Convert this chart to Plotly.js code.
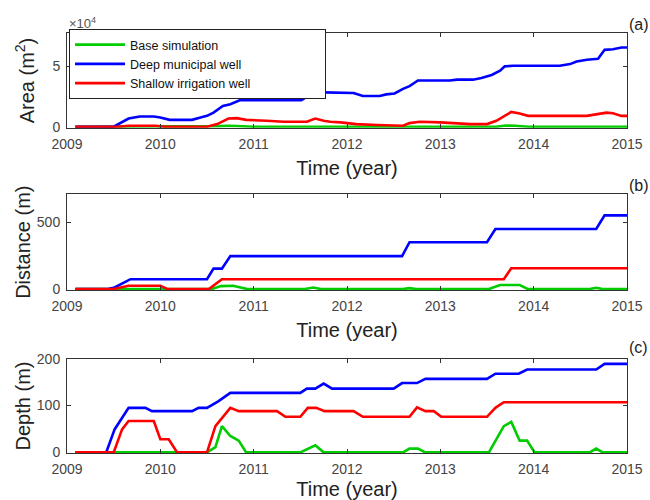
<!DOCTYPE html>
<html><head><meta charset="utf-8">
<script src="https://cdn.plot.ly/plotly-3.0.1.min.js"></script>
<style>html,body{margin:0;padding:0;background:#fff}#chart{width:650px;height:500px}</style>
</head><body><div id="chart"></div>
<script>
const seriesNames = ['Base simulation', 'Deep municipal well', 'Shallow irrigation well'];
const seriesColors = ['#00cc00', '#0000ff', '#ff0000'];
const yearTicks = [2009, 2010, 2011, 2012, 2013, 2014, 2015];
const yearLabels = ['2009', '2010', '2011', '2012', '2013', '2014', '2015'];

// Panel (a): Area (x10^4 m^2)
const areaBaseT = [2009.09, 2009.55, 2009.66, 2009.95, 2010.05, 2010.5, 2010.62, 2010.75, 2010.9, 2011.0, 2013.6, 2013.7, 2013.8, 2013.95, 2015.0];
const areaBaseV = [0, 0, 0.06, 0.06, 0, 0, 0.05, 0.08, 0.04, 0, 0, 0.1, 0.08, 0, 0];
const areaDeepT = [2009.09, 2009.5, 2009.66, 2009.78, 2009.93, 2010.0, 2010.1, 2010.34, 2010.43, 2010.5, 2010.57, 2010.67, 2010.75, 2010.85, 2011.51, 2011.58, 2011.66, 2011.75, 2012.07, 2012.17, 2012.35, 2012.42, 2012.51, 2012.6, 2012.67, 2012.76, 2013.1, 2013.18, 2013.35, 2013.44, 2013.55, 2013.64, 2013.69, 2013.78, 2014.28, 2014.39, 2014.46, 2014.57, 2014.69, 2014.76, 2014.85, 2014.94, 2015.0];
const areaDeepV = [0, 0, 0.68, 0.85, 0.85, 0.77, 0.57, 0.57, 0.77, 0.9, 1.17, 1.72, 1.86, 2.19, 2.19, 2.54, 2.68, 2.85, 2.8, 2.54, 2.54, 2.68, 2.76, 3.14, 3.36, 3.83, 3.83, 3.9, 3.9, 4.04, 4.29, 4.64, 5.0, 5.05, 5.05, 5.19, 5.41, 5.55, 5.63, 6.37, 6.42, 6.56, 6.56];
const areaShallowT = [2009.09, 2009.55, 2009.66, 2009.95, 2010.05, 2010.5, 2010.61, 2010.73, 2010.82, 2010.92, 2011.14, 2011.32, 2011.57, 2011.66, 2011.75, 2011.82, 2011.93, 2012.1, 2012.32, 2012.6, 2012.67, 2012.78, 2013.0, 2013.32, 2013.5, 2013.6, 2013.69, 2013.76, 2013.85, 2013.94, 2014.57, 2014.67, 2014.78, 2014.85, 2014.94, 2015.0];
const areaShallowV = [0, 0, 0.08, 0.08, 0, 0, 0.22, 0.68, 0.71, 0.57, 0.49, 0.41, 0.41, 0.68, 0.5, 0.41, 0.36, 0.22, 0.14, 0.08, 0.3, 0.41, 0.36, 0.22, 0.22, 0.49, 0.9, 1.23, 1.09, 0.9, 0.9, 1.04, 1.17, 1.12, 0.9, 0.9];

// Panel (b): Distance (m)
const distBaseT = [2009.09, 2009.5, 2009.6, 2009.95, 2010.05, 2010.55, 2010.65, 2010.78, 2010.93, 2011.55, 2011.64, 2011.72, 2012.6, 2012.67, 2012.74, 2013.52, 2013.64, 2013.85, 2013.94, 2014.6, 2014.67, 2014.74, 2015.0];
const distBaseV = [0, 0, 5, 5, 0, 0, 22, 25, 0, 0, 12, 0, 0, 7, 0, 0, 30, 30, 0, 0, 10, 0, 0];
const distDeepT = [2009.09, 2009.44, 2009.51, 2009.68, 2010.5, 2010.57, 2010.66, 2010.75, 2012.59, 2012.67, 2013.5, 2013.59, 2014.67, 2014.76, 2015.0];
const distDeepV = [0, 0, 12, 74, 74, 153, 153, 247, 247, 351, 351, 450, 450, 552, 552];
const distShallowT = [2009.09, 2009.5, 2009.66, 2010.0, 2010.08, 2010.52, 2010.66, 2013.68, 2013.76, 2015.0];
const distShallowV = [0, 0, 25, 25, 0, 0, 74, 74, 156, 156];

// Panel (c): Depth (m)
const depthBaseT = [2009.09, 2010.5, 2010.59, 2010.66, 2010.75, 2010.84, 2010.92, 2011.5, 2011.66, 2011.75, 2012.6, 2012.67, 2012.76, 2012.84, 2013.52, 2013.68, 2013.76, 2013.85, 2013.93, 2014.01, 2014.6, 2014.67, 2014.74, 2015.0];
const depthBaseV = [0, 0, 11, 56, 35, 25, 0, 0, 15, 0, 0, 8, 8, 0, 0, 56, 65, 25, 25, 0, 0, 8, 0, 0];
const depthDeepT = [2009.09, 2009.42, 2009.51, 2009.66, 2009.84, 2009.91, 2010.34, 2010.41, 2010.5, 2010.62, 2010.75, 2011.5, 2011.57, 2011.66, 2011.75, 2011.84, 2012.5, 2012.59, 2012.75, 2012.84, 2013.5, 2013.59, 2013.84, 2013.93, 2014.67, 2014.76, 2015.0];
const depthDeepV = [0, 0, 49, 95, 95, 88, 88, 95, 95, 109, 127, 127, 136, 136, 147, 136, 136, 148, 148, 157, 157, 168, 168, 177, 177, 189, 189];
const depthShallowT = [2009.09, 2009.5, 2009.59, 2009.66, 2009.93, 2010.0, 2010.09, 2010.18, 2010.5, 2010.59, 2010.75, 2010.84, 2011.25, 2011.34, 2011.5, 2011.58, 2011.67, 2011.76, 2012.07, 2012.17, 2012.67, 2012.75, 2012.84, 2012.93, 2013.01, 2013.5, 2013.59, 2013.68, 2015.0];
const depthShallowV = [0, 0, 49, 67, 67, 28, 28, 0, 0, 56, 95, 88, 88, 76, 76, 95, 95, 88, 88, 76, 76, 96, 88, 88, 76, 76, 95, 107, 107];

const FONT = '"Liberation Sans", Arial, Helvetica, sans-serif';
const legendPad = '\u00a0'.repeat(20);
const panels = [
  {xa: 'x', ya: 'y', data: [[areaBaseT, areaBaseV], [areaDeepT, areaDeepV], [areaShallowT, areaShallowV]], legend: true},
  {xa: 'x2', ya: 'y2', data: [[distBaseT, distBaseV], [distDeepT, distDeepV], [distShallowT, distShallowV]], legend: false},
  {xa: 'x3', ya: 'y3', data: [[depthBaseT, depthBaseV], [depthDeepT, depthDeepV], [depthShallowT, depthShallowV]], legend: false}
];
const traces = [];
panels.forEach(p => {
  p.data.forEach((d, i) => {
    traces.push({
      x: d[0], y: d[1], xaxis: p.xa, yaxis: p.ya, type: 'scatter', mode: 'lines',
      name: seriesNames[i] + (i === 2 ? legendPad : ''), line: {color: seriesColors[i], width: 2.6},
      showlegend: p.legend, hoverinfo: 'skip'
    });
  });
});

function xAxis(anchor, standoff) {
  return {
    anchor: anchor, domain: [0, 1], range: [2009, 2015],
    tickvals: yearTicks, ticktext: yearLabels,
    ticks: 'inside', ticklen: 4, tickcolor: '#333', tickwidth: 1,
    showline: true, linecolor: '#333', linewidth: 1, mirror: 'ticks',
    showgrid: false, zeroline: false, automargin: false,
    tickfont: {family: FONT, size: 14, color: '#444'},
    ticklabelstandoff: 3,
    title: {text: 'Time (year)', font: {family: FONT, size: 20, color: '#222'}, standoff: standoff}
  };
}
function yAxis(anchor, domain, range, ticks, labels, title, standoff) {
  return {
    anchor: anchor, domain: domain, range: range, tickvals: ticks, ticktext: labels,
    ticks: 'inside', ticklen: 4, tickcolor: '#333', tickwidth: 1,
    showline: true, linecolor: '#333', linewidth: 1, mirror: 'ticks',
    showgrid: false, zeroline: false, automargin: false,
    tickfont: {family: FONT, size: 14, color: '#444'},
    ticklabelstandoff: 3,
    title: {text: title, font: {family: FONT, size: 20, color: '#222'}, standoff: standoff}
  };
}

const layout = {
  width: 650, height: 500,
  margin: {l: 67, r: 23, t: 0, b: 0},
  paper_bgcolor: '#fff', plot_bgcolor: '#fff',
  font: {family: FONT},
  showlegend: true,
  xaxis: xAxis('y', 10),
  xaxis2: xAxis('y2', 10),
  xaxis3: xAxis('y3', 10),
  yaxis: yAxis('x', [0.7446, 0.9334], [-0.08, 7.74], [0, 5], ['0', '5'], 'Area (m<sup>2</sup>)', 12),
  yaxis2: yAxis('x2', [0.42, 0.6114], [-7, 710], [0, 500], ['0', '500'], 'Distance (m)', 0),
  yaxis3: yAxis('x3', [0.0934, 0.2826], [-2, 200], [0, 100, 200], ['0', '100', '200'], 'Depth (m)', 0),
  legend: {
    x: 0.0036, y: 0.942, xanchor: 'left', yanchor: 'top',
    bgcolor: '#fff', bordercolor: '#222', borderwidth: 1,
    font: {family: FONT, size: 12.5, color: '#111'},
    itemwidth: 50, tracegroupgap: 0
  },
  annotations: [
    {text: '\u00d710<sup>4</sup>', xref: 'paper', yref: 'paper', x: 0, y: 0.954, xanchor: 'left', yanchor: 'middle', showarrow: false, font: {family: FONT, size: 13, color: '#555'}},
    {text: '(a)', xref: 'paper', yref: 'paper', x: 1, y: 0.952, xanchor: 'left', yanchor: 'middle', showarrow: false, font: {family: FONT, size: 16, color: '#222'}},
    {text: '(b)', xref: 'paper', yref: 'paper', x: 1, y: 0.63, xanchor: 'left', yanchor: 'middle', showarrow: false, font: {family: FONT, size: 16, color: '#222'}},
    {text: '(c)', xref: 'paper', yref: 'paper', x: 1, y: 0.306, xanchor: 'left', yanchor: 'middle', showarrow: false, font: {family: FONT, size: 16, color: '#222'}}
  ]
};
Plotly.newPlot('chart', traces, layout, {displayModeBar: false, staticPlot: true});
</script></body></html>
